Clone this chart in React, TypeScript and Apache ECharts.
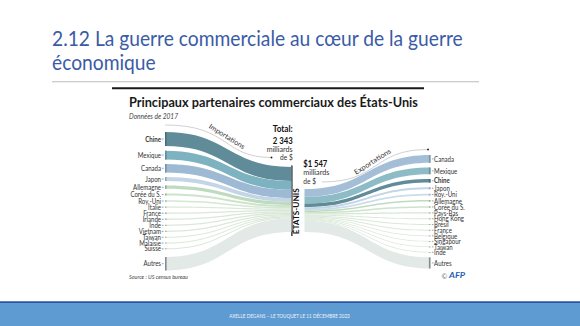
import React, { useEffect, useRef } from "react";
import * as echarts from "echarts";

// ---------- data (billions of US$, 2017) ----------
const importCountries = ["Chine", "Mexique", "Canada", "Japon", "Allemagne", "Corée du S.", "Roy.-Uni", "Italie", "France", "Irlande", "Inde", "Vietnam", "Taiwan", "Malaisie", "Suisse", "Autres"];
const importValues = [505, 314, 300, 136, 118, 71, 53, 50, 49, 49, 49, 46, 42, 37, 36, 488];
const exportCountries = ["Canada", "Mexique", "Chine", "Japon", "Roy.-Uni", "Allemagne", "Corée du S.", "Pays-Bas", "Hong Kong", "Brésil", "France", "Belgique", "Singapour", "Taiwan", "Inde", "Autres"];
const exportValues = [282, 243, 130, 68, 56, 54, 48, 42, 40, 37, 34, 30, 30, 26, 26, 401];
const totalLabels = ["2 343", "$1 547"];

// ---------- styles ----------
const importColors = ["#5f8c98", "#7db3c1", "#9db9d3", "#c3d5e6", "#bfdbbf", "#cde3cc", "#d5e7d3", "#dae8d8", "#dae8d8", "#dae8d8", "#dae8d8", "#dae8d8", "#dae8d8", "#dae8d8", "#dae8d8", "#e2e9e6"];
const exportColors = ["#a3bed6", "#8dbbc6", "#5f8c98", "#c3d5e6", "#cbdcea", "#bfdbbf", "#cde3cc", "#d5e7d3", "#dae8d8", "#dae8d8", "#dae8d8", "#dae8d8", "#dae8d8", "#dae8d8", "#dae8d8", "#e2e9e6"];

// ---------- layout constants ----------
const Y_MAX = 5000;
const NODE_GAP = 170;
const LEFT_AUTRES_EXTRA = 106;
const RIGHT_START = 830;
const IMPORT_CENTER_TOP = 1264;
const X_LEFT = 165;
const X_IMP = 291.5;
const X_EXP = 304.5;
const X_RIGHT = 430.5;

const sum = (a: number[]) => a.reduce((s, v) => s + v, 0);

function stackWithGaps(values: number[], start: number, gap: number, extraLast: number) {
  const out: number[][] = [];
  let y = start;
  values.forEach((v, i) => {
    if (i === values.length - 1) y += extraLast;
    out.push([y, y + v]);
    y += v + gap;
  });
  return out;
}
function stackContiguous(values: number[], start: number) {
  const out: number[][] = [];
  let y = start;
  values.forEach((v) => {
    out.push([y, y + v]);
    y += v;
  });
  return out;
}

let _ctx: CanvasRenderingContext2D | null = null;
function textWidth(text: string, font: string) {
  if (!_ctx) _ctx = document.createElement("canvas").getContext("2d");
  if (!_ctx) return 0;
  _ctx.font = font;
  return _ctx.measureText(text).width;
}
function fitScale(text: string, font: string, target: number) {
  const w = textWidth(text, font);
  return w > 0 ? target / w : 1;
}
function darken(hex: string, k: number) {
  const n = parseInt(hex.slice(1), 16);
  const r = Math.round(((n >> 16) & 255) * (1 - k));
  const g = Math.round(((n >> 8) & 255) * (1 - k));
  const b = Math.round((n & 255) * (1 - k));
  return `rgb(${r},${g},${b})`;
}

function gText(text: string, x: number, y: number, font: string, fill: string, align = "left", scaleX = 1, rotation = 0) {
  return {
    type: "text",
    x,
    y,
    scaleX,
    rotation,
    silent: true,
    style: { text, font, fill, align, verticalAlign: "middle", textAlign: align, textVerticalAlign: "middle" },
  };
}

function buildOption() {
  const LABEL_FONT = "7px Lato";
  const labelScale = fitScale("Allemagne", LABEL_FONT, 28);

  const impLeft = stackWithGaps(importValues, 0, NODE_GAP, LEFT_AUTRES_EXTRA);
  const impCenter = stackContiguous(importValues, IMPORT_CENTER_TOP);
  const centerBottom = IMPORT_CENTER_TOP + sum(importValues);
  const expCenter = stackContiguous(exportValues, centerBottom - sum(exportValues));
  const expRight = stackWithGaps(exportValues, RIGHT_START, NODE_GAP, 0);

  const importData = importValues.map((_, i) => [X_LEFT, impLeft[i][0], impLeft[i][1], X_IMP, impCenter[i][0], impCenter[i][1]]);
  const exportData = exportValues.map((_, i) => [X_EXP, expCenter[i][0], expCenter[i][1], X_RIGHT, expRight[i][0], expRight[i][1]]);

  const makeRender = (side: "imp" | "exp", names: string[], colors: string[]) => (params: any, api: any) => {
    const i = params.dataIndex;
    const a0 = api.coord([api.value(0), api.value(1)]);
    const a1 = api.coord([api.value(0), api.value(2)]);
    const b0 = api.coord([api.value(3), api.value(4)]);
    const b1 = api.coord([api.value(3), api.value(5)]);
    const xm = (a0[0] + b0[0]) / 2;
    const d = `M${a0[0]},${a0[1]} C${xm},${a0[1]} ${xm},${b0[1]} ${b0[0]},${b0[1]} L${b1[0]},${b1[1]} C${xm},${b1[1]} ${xm},${a1[1]} ${a1[0]},${a1[1]} Z`;
    const fill = colors[i];
    const isImp = side === "imp";
    const nodeX = isImp ? a0[0] : b0[0];
    const top = isImp ? a0[1] : b0[1];
    const bot = isImp ? a1[1] : b1[1];
    const mid = (top + bot) / 2;
    const name = names[i];
    const children: any[] = [
      { type: "path", shape: { pathData: d }, style: { fill } },
      {
        type: "rect",
        shape: { x: isImp ? nodeX : nodeX - 1.6, y: top, width: 1.6, height: Math.max(bot - top, 1) },
        style: { fill: darken(fill, name === "Autres" ? 0.4 : 0.22) },
      },
      {
        type: "line",
        shape: isImp ? { x1: nodeX - 3.2, y1: mid, x2: nodeX - 1.4, y2: mid } : { x1: nodeX + 1.4, y1: mid, x2: nodeX + 3.0, y2: mid },
        style: { stroke: "#777", lineWidth: 0.7 },
      },
      {
        type: "text",
        x: isImp ? nodeX - 4 : nodeX + 3.6,
        y: mid,
        scaleX: labelScale,
        style: {
          text: name,
          font: (name === "Chine" ? "bold " : "") + LABEL_FONT,
          fill: "#333",
          align: isImp ? "right" : "left",
          verticalAlign: "middle",
          textAlign: isImp ? "right" : "left",
          textVerticalAlign: "middle",
        },
      },
    ];
    return { type: "group", children };
  };

  const TITLE_FONT = "22px Lato";
  const titleLine1 = "2.12 La guerre commerciale au cœur de la guerre";
  const titleScale = fitScale(titleLine1, TITLE_FONT, 411);
  const INFO_TITLE_FONT = "bold 13px Lato";
  const infoTitle = "Principaux partenaires commerciaux des États-Unis";
  const footer = "AXELLE DEGANS – LE TOUQUET LE 11 DÉCEMBRE 2023";

  const boldNum = "bold 9px Lato";
  const smallF = "7.5px Lato";

  const graphic: any[] = [
    // slide title
    gText(titleLine1, 52, 37, TITLE_FONT, "#3a5ba6", "left", titleScale),
    gText("économique", 52, 61.5, TITLE_FONT, "#3a5ba6", "left", titleScale),
    { type: "rect", silent: true, shape: { x: 52, y: 81.2, width: 427, height: 1 }, style: { fill: "#bdbdbd" } },
    // infographic header
    { type: "rect", silent: true, shape: { x: 112, y: 87.2, width: 312, height: 2 }, style: { fill: "#1a1a1a" } },
    gText(infoTitle, 129, 102, INFO_TITLE_FONT, "#1a1a1a", "left", fitScale(infoTitle, INFO_TITLE_FONT, 289)),
    gText("Données de 2017", 129, 115.5, "italic 7px Lato", "#444", "left", fitScale("Données de 2017", "italic 7px Lato", 49)),
    // totals
    gText("Total:", 292.7, 128.5, boldNum, "#111", "right", fitScale("Total:", boldNum, 20)),
    gText(totalLabels[0], 292.7, 140.7, boldNum, "#111", "right", fitScale(totalLabels[0], boldNum, 20)),
    gText("milliards", 292.7, 149.5, smallF, "#333", "right", fitScale("milliards", smallF, 26)),
    gText("de $", 292.7, 157.5, smallF, "#333", "right", fitScale("de $", smallF, 12.7)),
    gText(totalLabels[1], 303.3, 164, boldNum, "#111", "left", fitScale(totalLabels[1], boldNum, 24)),
    gText("milliards", 303.3, 172.8, smallF, "#333", "left", fitScale("milliards", smallF, 26)),
    gText("de $", 303.3, 181, smallF, "#333", "left", fitScale("de $", smallF, 12.7)),
    // arcs
    {
      type: "bezierCurve",
      silent: true,
      shape: { x1: 165, y1: 125, cpx1: 230, cpy1: 125, cpx2: 222, cpy2: 157.5, x2: 271.5, y2: 157.5 },
      style: { stroke: "#c4c4c4", lineWidth: 0.8, fill: null },
    },
    { type: "circle", silent: true, shape: { cx: 271.5, cy: 157.5, r: 0.9 }, style: { fill: "#222" } },
    gText("Importations", 227, 136.5, "7px Lato", "#333", "center", fitScale("Importations", "7px Lato", 41), -0.56),
    {
      type: "bezierCurve",
      silent: true,
      shape: { x1: 322, y1: 182, cpx1: 380, cpy1: 182, cpx2: 372, cpy2: 149.5, x2: 428, y2: 149.5 },
      style: { stroke: "#c4c4c4", lineWidth: 0.8, fill: null },
    },
    { type: "circle", silent: true, shape: { cx: 428, cy: 149.5, r: 0.9 }, style: { fill: "#222" } },
    gText("Exportations", 372.5, 161.5, "7px Lato", "#333", "center", fitScale("Exportations", "7px Lato", 42), 0.56),
    // center
    { type: "rect", silent: true, shape: { x: 291.3, y: 165.5, width: 1.2, height: 70.5 }, style: { fill: "#111" } },
    gText("ÉTATS-UNIS", 296.5, 211.3, "bold 8px Lato", "#111", "center", fitScale("ÉTATS-UNIS", "bold 8px Lato", 46), Math.PI / 2),
    // source / credit
    gText("Source : US census bureau", 129, 276.8, "italic 5.5px Lato", "#444", "left", fitScale("Source : US census bureau", "italic 5.5px Lato", 59)),
    gText("©", 441.5, 275.5, "7px Lato", "#666", "left"),
    gText("AFP", 449, 275.5, "italic bold 8px Lato", "#1f5fb8", "left", fitScale("AFP", "italic bold 8px Lato", 16)),
    // footer
    { type: "rect", silent: true, shape: { x: 0, y: 302.5, width: 580, height: 24 }, style: { fill: "#5e9bd2" } },
    { type: "rect", silent: true, shape: { x: 0, y: 301.3, width: 580, height: 1.6 }, style: { fill: "#2c56a3" } },
    gText(footer, 289.5, 316, "5px Lato", "#eef4fb", "center", fitScale(footer, "5px Lato", 121)),
  ];

  return {
    animation: false,
    backgroundColor: "#ffffff",
    grid: { left: 0, right: 0, top: 132, height: 138.5 },
    xAxis: { type: "value", min: 0, max: 580, show: false },
    yAxis: { type: "value", min: 0, max: Y_MAX, inverse: true, show: false },
    series: [
      {
        type: "custom",
        name: "Importations",
        coordinateSystem: "cartesian2d",
        renderItem: makeRender("imp", importCountries, importColors),
        data: importData,
        silent: true,
        clip: false,
      },
      {
        type: "custom",
        name: "Exportations",
        coordinateSystem: "cartesian2d",
        renderItem: makeRender("exp", exportCountries, exportColors),
        data: exportData,
        silent: true,
        clip: false,
      },
    ],
    graphic: { elements: graphic },
  };
}

export default function App() {
  const ref = useRef<HTMLDivElement>(null);
  useEffect(() => {
    if (!ref.current) return;
    const chart = echarts.init(ref.current, undefined, { renderer: "svg" });
    chart.setOption(buildOption() as any);
    return () => chart.dispose();
  }, []);
  return (
    <div
      ref={ref}
      style={{ position: "absolute", left: 0, top: 0, width: 580, height: 326, background: "#fff" }}
    />
  );
}
